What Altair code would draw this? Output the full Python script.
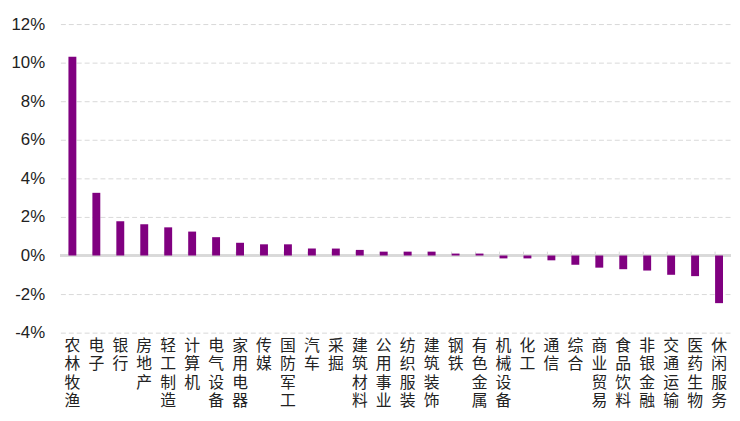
import altair as alt
import pandas as pd

categories = ["农林牧渔", "电子", "银行", "房地产", "轻工制造", "计算机", "电气设备", "家用电器",
              "传媒", "国防军工", "汽车", "采掘", "建筑材料", "公用事业", "纺织服装", "建筑装饰",
              "钢铁", "有色金属", "机械设备", "化工", "通信", "综合", "商业贸易", "食品饮料",
              "非银金融", "交通运输", "医药生物", "休闲服务"]
values = [10.3, 3.25, 1.77, 1.62, 1.46, 1.24, 0.95, 0.66,
          0.58, 0.58, 0.36, 0.36, 0.29, 0.2, 0.2, 0.2,
          0.1, 0.1, -0.15, -0.15, -0.25, -0.48, -0.63, -0.71,
          -0.78, -1.0, -1.07, -2.47]
y_ticks = [-4, -2, 0, 2, 4, 6, 8, 10, 12]

df = pd.DataFrame({"cat": categories, "val": values})
df["zero"] = 0.0
df["tick"] = 0.2

xscale = alt.Scale(paddingInner=0.67, paddingOuter=0.335)
yscale = alt.Scale(domain=[-4, 12], nice=False)

xaxis = alt.Axis(labelAngle=0, domain=False, ticks=False,
                 labelExpr="split(datum.label, '')",
                 labelFont="Noto Sans CJK SC", labelFontSize=16,
                 labelLineHeight=18.5, labelBaseline="top",
                 labelPadding=5, labelColor="#222222",
                 labelOverlap=False, grid=False)
yaxis = alt.Axis(values=y_ticks, labelExpr="datum.value + '%'",
                 domain=False, ticks=False, grid=True,
                 gridColor="#d9d9d9", gridDash=[5, 3], gridWidth=1,
                 labelFont="Liberation Sans", labelFontSize=17,
                 labelColor="#222222", labelPadding=16,
                 labelOverlap=False)

bars = alt.Chart(df).mark_bar(color="#800080").encode(
    x=alt.X("cat:N", sort=None, scale=xscale, title=None, axis=xaxis),
    y=alt.Y("val:Q", scale=yscale, title=None, axis=yaxis),
)

zero_line = alt.Chart(df).mark_rule(color="#d9d9d9", strokeWidth=2).encode(
    y=alt.Y("zero:Q", scale=yscale, title=None, axis=yaxis),
)

ticks = alt.Chart(df).mark_rule(color="#d9d9d9", strokeWidth=1).encode(
    x=alt.X("cat:N", sort=None, scale=xscale, bandPosition=0, title=None, axis=xaxis),
    y=alt.Y("zero:Q", scale=yscale, title=None, axis=yaxis),
    y2="tick:Q",
)

chart = alt.layer(zero_line, ticks, bars).properties(
    width=678, height=312,
    padding={"left": 53, "top": 14, "right": 1, "bottom": 79},
    autosize=alt.AutoSizeParams(type="none"),
).configure_view(stroke=None)

chart.save("out.html", embed_options={"renderer": "svg", "actions": False})
